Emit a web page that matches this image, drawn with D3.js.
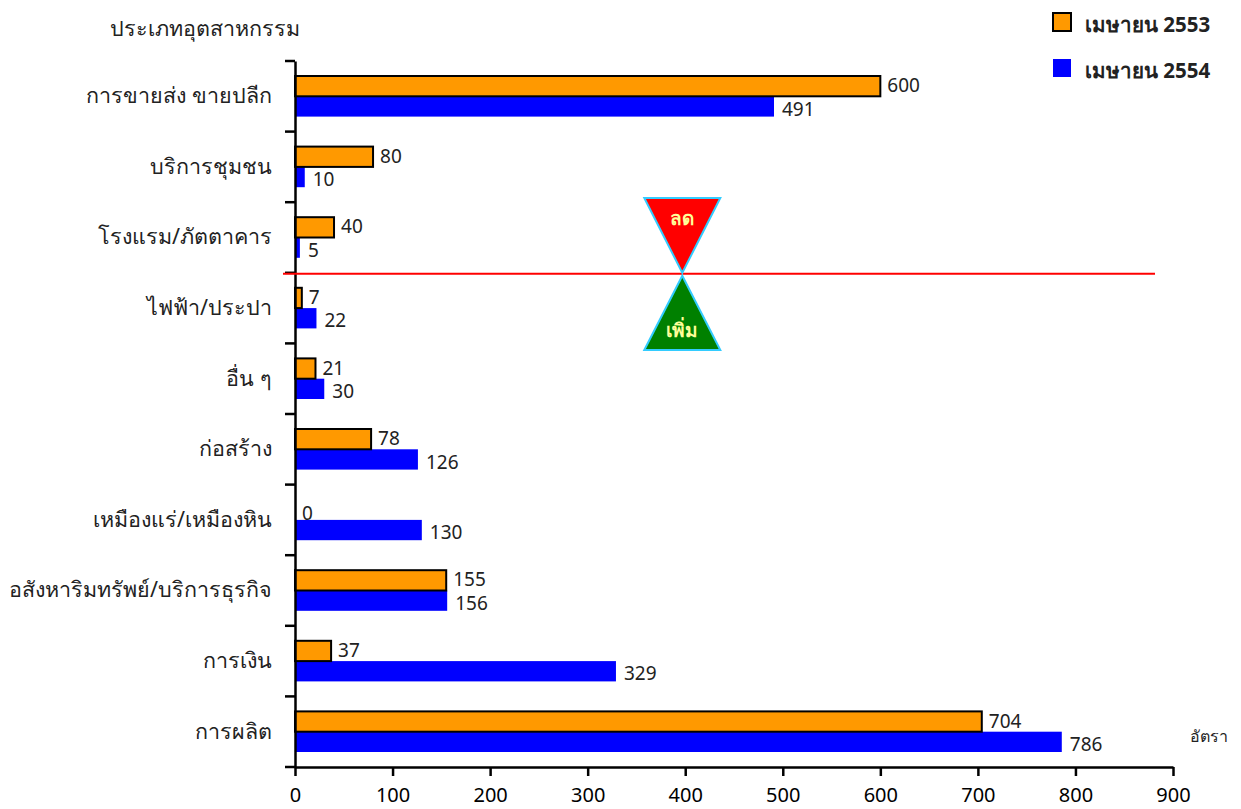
<!DOCTYPE html>
<html><head><meta charset="utf-8">
<script src="https://cdn.jsdelivr.net/npm/d3@7"></script>
<style>body{margin:0;background:#fff}svg{display:block}text{font-family:"Noto Sans","Liberation Sans",sans-serif}</style>
</head><body>
<svg id="c" width="1241" height="809"></svg>
<script>
const categories = ["การขายส่ง ขายปลีก","บริการชุมชน","โรงแรม/ภัตตาคาร","ไฟฟ้า/ประปา","อื่น ๆ","ก่อสร้าง","เหมืองแร่/เหมืองหิน","อสังหาริมทรัพย์/บริการธุรกิจ","การเงิน","การผลิต"];
const series2553 = [600,80,40,7,21,78,0,155,37,704];
const series2554 = [491,10,5,22,30,126,130,156,329,786];
const seriesNames = ["เมษายน 2553","เมษายน 2554"];
const xTicks = [0,100,200,300,400,500,600,700,800,900];
const markerValue = 397;

const svg = d3.select("#c");
const x = d3.scaleLinear().domain([0,900]).range([295,1173]);
const y = d3.scaleBand().domain(categories).range([61,767]).paddingInner(0).paddingOuter(0);
const inner = d3.scaleBand().domain(seriesNames).range([15, y.bandwidth()-15]);

// bars
const g = svg.append("g");
categories.forEach((c,i)=>{
  const y0 = y(c);
  g.append("rect").attr("x",x(0)).attr("y",y0+inner(seriesNames[1])).attr("width",x(series2554[i])-x(0)).attr("height",inner.bandwidth()).attr("fill","#0000ff");
  if(series2553[i]>0) g.append("rect").attr("x",x(0)).attr("y",y0+inner(seriesNames[0])).attr("width",x(series2553[i])-x(0)).attr("height",inner.bandwidth()).attr("fill","#ff9900").attr("stroke","#000").attr("stroke-width",2);
  g.append("text").attr("x",x(series2553[i])+7).attr("y",y0+inner(seriesNames[0])+inner.bandwidth()/2+ (series2553[i]>0?1:5)).attr("dominant-baseline","middle").attr("font-size",19).attr("fill","#222").text(series2553[i]);
  g.append("text").attr("x",x(series2554[i])+8).attr("y",y0+inner(seriesNames[1])+inner.bandwidth()/2+4).attr("dominant-baseline","middle").attr("font-size",19).attr("fill","#222").text(series2554[i]);
});

// y axis
const yAxis = d3.axisLeft(y).tickSize(0).tickPadding(23);
const ya = svg.append("g").attr("transform","translate(295,0)").call(yAxis);
ya.select(".domain").attr("stroke","#000").attr("stroke-width",2.5);
ya.selectAll("text").attr("font-size",21.5).attr("fill","#222").attr("dy","0.32em");
const boundaries = categories.map(c=>y(c)).concat([y.range()[1]]);
svg.append("g").selectAll("line").data(boundaries).join("line").attr("x1",285).attr("x2",295).attr("y1",d=>d).attr("y2",d=>d).attr("stroke","#000").attr("stroke-width",2.5);

// x axis
const xAxis = d3.axisBottom(x).tickValues(xTicks).tickSize(9).tickPadding(12).tickSizeOuter(0);
const xa = svg.append("g").attr("transform","translate(0,767)").call(xAxis);
xa.select(".domain").attr("stroke","#000").attr("stroke-width",2.5);
xa.selectAll(".tick line").attr("stroke","#000").attr("stroke-width",2.5);
xa.selectAll("text").attr("font-size",20).attr("fill","#000").attr("font-family","'Liberation Sans',Arial,sans-serif");

// red divider line
const lineY = y(categories[3]);
svg.append("line").attr("x1",283).attr("x2",1155).attr("y1",lineY+1).attr("y2",lineY+1).attr("stroke","#ff0000").attr("stroke-width",2);

// triangles
const mx = x(markerValue);
svg.append("path").attr("d",`M${mx-38},198 L${mx+38},198 L${mx},${lineY}Z`).attr("fill","#ff0000").attr("stroke","#33ccff").attr("stroke-width",2);
svg.append("path").attr("d",`M${mx-38},350 L${mx+38},350 L${mx},${lineY+3}Z`).attr("fill","#008000").attr("stroke","#33ccff").attr("stroke-width",2);
svg.append("text").attr("x",mx).attr("y",225).attr("text-anchor","middle").attr("font-size",19).attr("font-weight","bold").attr("fill","#ffff99").text("ลด");
svg.append("text").attr("x",mx).attr("y",337).attr("text-anchor","middle").attr("font-size",19).attr("font-weight","bold").attr("fill","#ffff99").text("เพิ่ม");

// titles
svg.append("text").attr("x",110).attr("y",36).attr("font-size",21.5).attr("fill","#222").text("ประเภทอุตสาหกรรม");
svg.append("text").attr("x",1190).attr("y",742).attr("font-size",16).attr("fill","#222").text("อัตรา");

// legend
const leg = svg.append("g");
leg.append("rect").attr("x",1053).attr("y",13).attr("width",18).attr("height",18).attr("fill","#ff9900").attr("stroke","#000").attr("stroke-width",2);
leg.append("rect").attr("x",1053).attr("y",59).attr("width",18).attr("height",18).attr("fill","#0000ff");
leg.append("text").attr("x",1085).attr("y",32).attr("font-size",20.5).attr("font-weight","bold").attr("fill","#222").text(seriesNames[0]);
leg.append("text").attr("x",1085).attr("y",78).attr("font-size",20.5).attr("font-weight","bold").attr("fill","#222").text(seriesNames[1]);
</script>
</body></html>
